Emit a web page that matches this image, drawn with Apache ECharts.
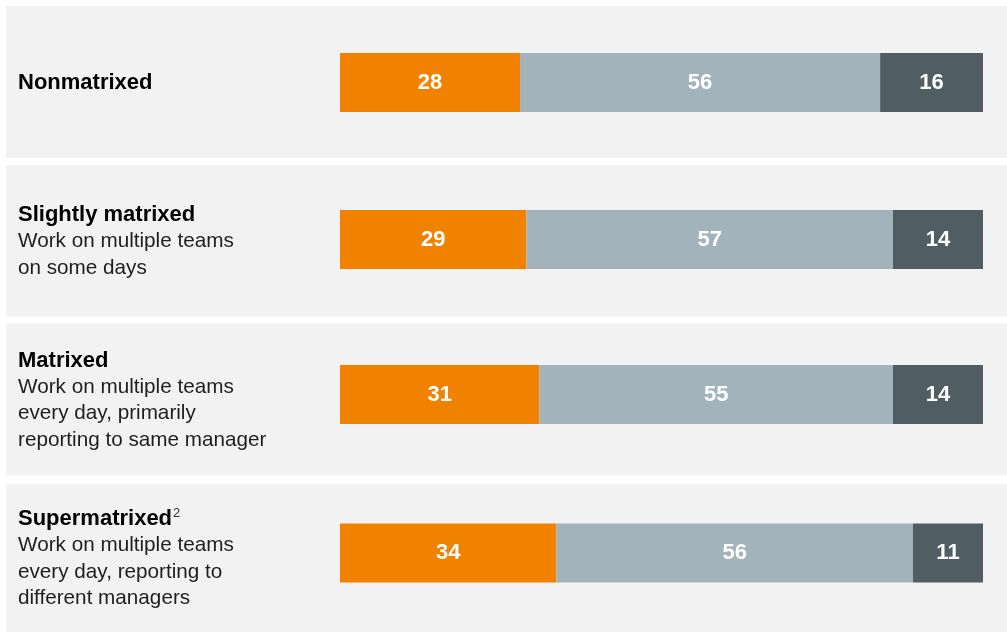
<!DOCTYPE html>
<html>
<head>
<meta charset="utf-8">
<script src="https://cdn.jsdelivr.net/npm/echarts@6/dist/echarts.min.js"></script>
<style>
  html, body { margin: 0; padding: 0; background: #ffffff; }
  #chart { width: 1007px; height: 632px; }
</style>
</head>
<body>
<div id="chart"></div>
<script>
// Team setups, one row each
const groups = ['Nonmatrixed', 'Slightly matrixed', 'Matrixed', 'Supermatrixed'];
const footnoteMarks = ['', '', '', '2'];
const descriptions = [
  [],
  ['Work on multiple teams', 'on some days'],
  ['Work on multiple teams', 'every day, primarily', 'reporting to same manager'],
  ['Work on multiple teams', 'every day, reporting to', 'different managers']
];

// Shares per row (%), left to right
const firstShare = [28, 29, 31, 34];
const middleShare = [56, 57, 55, 56];
const lastShare = [16, 14, 14, 11];

const colors = ['#F08200', '#A2B3BC', '#505D63'];
const FONT = '"Liberation Sans", Arial, Helvetica, sans-serif';

// Row geometry
const panelTop = [6, 165, 323.5, 484];
const panelHeight = [151.5, 151.5, 152, 148];
const barCenter = [82.5, 239.5, 394.5, 553];
const BAR_H = 59;

const chart = echarts.init(document.getElementById('chart'), null, { renderer: 'canvas' });

const grids = [], xAxes = [], yAxes = [], series = [], graphics = [];

groups.forEach(function (g, i) {
  // background panel
  graphics.push({
    type: 'rect', z: -10, silent: true,
    shape: { x: 6, y: panelTop[i], width: 1001, height: panelHeight[i] },
    style: { fill: '#F2F2F2' }
  });

  // row label: bold heading with optional footnote mark, then description lines
  let txt = '{h|' + g + '}' + (footnoteMarks[i] ? '{sup|' + footnoteMarks[i] + '}' : '');
  descriptions[i].forEach(function (line) { txt += '\n{d|' + line + '}'; });
  graphics.push({
    type: 'text', silent: true,
    x: 18, y: panelTop[i] + panelHeight[i] / 2 + 1,
    style: {
      text: txt,
      align: 'left', verticalAlign: 'middle',
      fontFamily: FONT,
      rich: {
        h: { fontSize: 22, fontWeight: 'bold', fill: '#000000', lineHeight: 26.5, fontFamily: FONT },
        sup: { fontSize: 13, fill: '#333333', lineHeight: 26.5, verticalAlign: 'top', padding: [1, 0, 0, 1], fontFamily: FONT },
        d: { fontSize: 20.7, fill: '#1e1e1e', lineHeight: 26.5, fontFamily: FONT }
      }
    }
  });

  const total = firstShare[i] + middleShare[i] + lastShare[i];
  grids.push({ left: 340, right: 24, top: barCenter[i] - BAR_H / 2, height: BAR_H, containLabel: false });
  xAxes.push({ gridIndex: i, type: 'value', min: 0, max: total, show: false });
  yAxes.push({ gridIndex: i, type: 'category', data: [g], show: false });

  [firstShare, middleShare, lastShare].forEach(function (arr, k) {
    series.push({
      type: 'bar',
      name: 'segment' + (k + 1),
      xAxisIndex: i, yAxisIndex: i,
      stack: 'row' + i,
      barWidth: '100%',
      data: [arr[i]],
      itemStyle: { color: colors[k] },
      label: {
        show: true, position: 'inside',
        color: '#ffffff', fontWeight: 'bold', fontSize: 22, fontFamily: FONT
      },
      silent: true,
      animation: false
    });
  });
});

chart.setOption({
  animation: false,
  backgroundColor: '#ffffff',
  graphic: graphics,
  grid: grids,
  xAxis: xAxes,
  yAxis: yAxes,
  series: series
});
</script>
</body>
</html>
